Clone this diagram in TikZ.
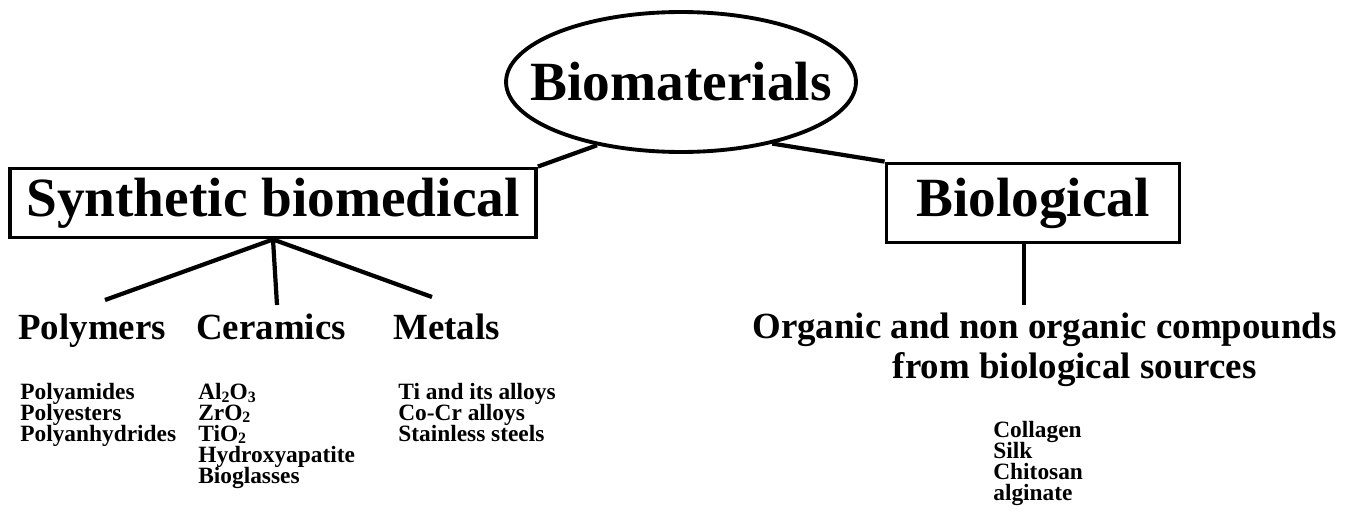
\documentclass[tikz,border=0pt]{standalone}
\usepackage{fontspec}
\setmainfont{Liberation Serif}
\usetikzlibrary{shapes.geometric}
\newcommand\itemfont{\fontsize{13.3}{11.9}\selectfont\bfseries\setlength{\lineskiplimit}{-20pt}\relax}
\newcommand\chemsub[1]{\raisebox{-0.25ex}{\fontsize{9}{9}\selectfont#1}}
\tikzset{
  bigbox/.style={draw, line width=2.2pt, font=\fontsize{31.5}{36}\selectfont\bfseries, inner sep=0},
  cat/.style={font=\fontsize{21}{22.7}\selectfont\bfseries, anchor=base west, inner sep=0, align=left},
  items/.style={font=\itemfont, anchor=base west, inner sep=0, align=left},
  branch/.style={line width=2.4pt}
}
\begin{document}
\begin{tikzpicture}[x=0.02cm, y=-0.02cm]
  \useasboundingbox (0,0) rectangle (1349,524);
  \node[bigbox, ellipse, minimum width=7cm, minimum height=2.8cm] (bio) at (681,82) {\makebox[0pt]{Biomaterials}};
  \node[bigbox, minimum width=10.52cm, minimum height=1.38cm] (syn) at (273,203) {Synthetic biomedical};
  \node[bigbox, minimum width=5.86cm, minimum height=1.58cm] (biol) at (1033,203) {Biological};

  \node[cat] (poly) at (18,339) {Polymers};
  \node[cat] (cer) at (196,339) {Ceramics};
  \node[cat] (met) at (393,339) {Metals};
  \node[cat] (org) at (752,378) {Organic and non organic compounds\\\hspace*{80pt}from biological sources};

  \node[items] (polyl) at (20,441) {Polyamides\\Polyesters\\Polyanhydrides};
  \node[items] (cerl) at (198,483) {Al\chemsub{2}O\chemsub{3}\\ZrO\chemsub{2}\\TiO\chemsub{2}\\Hydroxyapatite\\Bioglasses};
  \node[items] (metl) at (398,441) {Ti and its alloys\\Co-Cr alloys\\Stainless steels};
  \node[items] (orgl) at (993,500) {Collagen\\Silk\\Chitosan\\alginate};

  \coordinate (p1) at (105,300);
  \coordinate (c1) at (277,305);
  \coordinate (m1) at (432,297);
  \coordinate (o1) at (1024,305);

  \draw[branch] (bio.217) -- (syn.north east);
  \draw[branch] (bio.326) -- (biol.north west);
  \draw[branch] (syn.south) -- (p1);
  \draw[branch] (syn.south) -- (c1);
  \draw[branch] (syn.south) -- (m1);
  \draw[branch] (biol.south -| o1) -- (o1);
\end{tikzpicture}
\end{document}
